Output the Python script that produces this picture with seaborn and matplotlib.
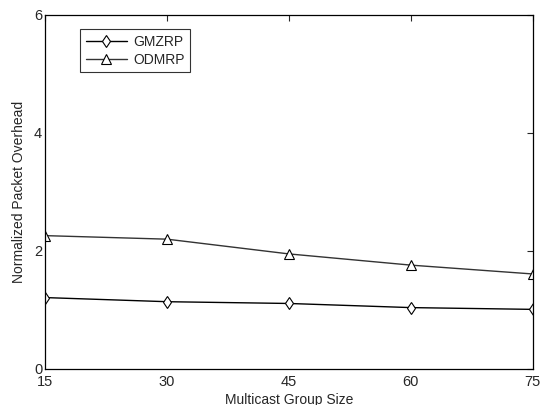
import pandas as pd
import matplotlib
matplotlib.use("Agg")
import matplotlib.pyplot as plt
import seaborn as sns

group_size = [15, 30, 45, 60, 75]
gmzrp = [1.21, 1.14, 1.11, 1.04, 1.01]
odmrp = [2.26, 2.20, 1.95, 1.76, 1.61]

df = pd.DataFrame({'size': group_size, 'GMZRP': gmzrp, 'ODMRP': odmrp})

sns.set_style("white")
plt.rcParams['font.family'] = ['Liberation Sans', 'DejaVu Sans']

fig = plt.figure(figsize=(5.42, 4.05), dpi=100)
ax = fig.add_axes([0.083, 0.089, 0.900, 0.874])

sns.lineplot(x='size', y='GMZRP', data=df, ax=ax, color='black', lw=1,
             marker='d', markersize=6.5, markerfacecolor='white',
             markeredgecolor='black', markeredgewidth=0.8, label='GMZRP')
sns.lineplot(x='size', y='ODMRP', data=df, ax=ax, color='#333333', lw=1,
             marker='^', markersize=6.5, markerfacecolor='white',
             markeredgecolor='black', markeredgewidth=0.8, label='ODMRP')

ax.set_xlim(15, 75)
ax.set_ylim(0, 6)
ax.set_xticks(group_size)
ax.set_yticks([0, 2, 4, 6])
ax.tick_params(direction='in', top=True, right=True, labelsize=10.5, length=4, width=0.8)
ax.tick_params(axis='x', pad=4)
ax.tick_params(axis='y', pad=2)
for s in ax.spines.values():
    s.set_color('black')
    s.set_linewidth(0.9)
ax.set_xlabel('Multicast Group Size', fontsize=10, labelpad=3)
ax.set_ylabel('Normalized Packet Overhead', fontsize=10, labelpad=6)

leg = ax.legend(loc='upper left', bbox_to_anchor=(0.072, 0.96), borderaxespad=0,
                fontsize=10, frameon=True, fancybox=False, edgecolor='black',
                handlelength=3.0, handletextpad=0.4, borderpad=0.4, labelspacing=0.3)
leg.get_frame().set_linewidth(0.8)

fig.savefig('out.png', dpi=100)
